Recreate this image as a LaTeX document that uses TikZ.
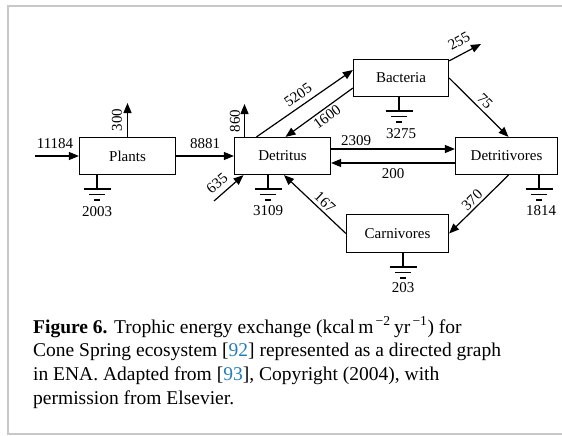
\documentclass[tikz,border=0pt]{standalone}
\usepackage{fontspec}
\setmainfont{Liberation Serif}
\usetikzlibrary{arrows.meta}
\definecolor{citeblue}{RGB}{35,125,185}
\definecolor{framegray}{RGB}{200,200,200}
\begin{document}
\begin{tikzpicture}[x=1pt,y=-1pt,
 box/.style={draw, line width=1.2pt, inner sep=0pt, minimum height=37pt, font=\fontsize{15}{18}\selectfont},
 arr/.style={line width=1.2pt, -{Triangle[length=10pt,width=8pt]}},
 lbl/.style={font=\fontsize{15}{18}\selectfont, inner sep=0pt},
 gnd/.pic={\draw[line width=1.3pt] (0,0) -- (0,14) (-13.5,14) -- (13.5,14) (-8,19.5) -- (8,19.5) (-3,25) -- (3,25);},
 captext/.style={anchor=base west, inner sep=0pt, font=\fontsize{19.5}{23.7}\selectfont}]

\useasboundingbox (0,0) rectangle (562,436);
\draw[framegray, line width=2pt] (563,6) -- (8,6) -- (8,434) -- (563,434);

% boxes
\node[box, minimum width=96pt] (plants) at (127.5,156) {Plants};
\node[box, minimum width=96pt] (detritus) at (282.5,156) {Detritus};
\node[box, minimum width=95pt] (bacteria) at (401,78) {Bacteria};
\node[box, minimum width=102pt] (detritivores) at (506.5,156) {Detritivores};
\node[box, minimum width=102pt, minimum height=38pt] (carnivores) at (397.5,233.5) {Carnivores};

% free ends
\coordinate (in1) at (35,156);
\coordinate (out300) at (127.5,103);
\coordinate (out860) at (244.5,104);
\coordinate (in635) at (214,201);
\coordinate (out255) at (481,44);

% connectors
\draw[arr] (in1) -- (plants.west);
\draw[arr] (plants.north) -- (out300);
\draw[arr] (plants.east) -- (detritus.west);
\draw[arr] ([xshift=-38pt]detritus.north) -- (out860);
\draw[arr] (in635) -- ([xshift=-39pt]detritus.south);
\draw[arr] ([xshift=-26pt]detritus.north) -- ([yshift=8pt]bacteria.west);
\draw[arr] ([yshift=-10pt]bacteria.west) -- ([xshift=3pt]detritus.north);
\draw[arr] ([yshift=-2pt]bacteria.north east) -- (out255);
\draw[arr] (bacteria.east) -- ([xshift=2pt]detritivores.north);
\draw[arr] ([yshift=7pt]detritus.east) -- ([yshift=7pt]detritivores.west);
\draw[arr] ([yshift=-7pt]detritivores.west) -- ([yshift=-7pt]detritus.east);
\draw[arr] ([xshift=2pt]detritivores.south) -- (carnivores.east);
\draw[arr] (carnivores.west) -- ([xshift=1.5pt]detritus.south);

% grounds
\pic at ([xshift=-30.5pt]plants.south) {gnd};
\pic at ([xshift=-14.5pt]detritus.south) {gnd};
\pic at ([xshift=-2pt]bacteria.south) {gnd};
\pic at ([xshift=32.5pt]detritivores.south) {gnd};
\pic at ([xshift=5.5pt]carnivores.south) {gnd};

% labels
\node[lbl] (l11184) at (55,144) {11184};
\node[lbl, rotate=90] (l300) at (117,120) {300};
\node[lbl] (l8881) at (205,144) {8881};
\node[lbl, rotate=90] (l860) at (235,121) {860};
\node[lbl, rotate=41] (l635) at (217,183) {635};
\node[lbl, rotate=35] (l5205) at (298,95) {5205};
\node[lbl, rotate=36] (l1600) at (327,117) {1600};
\node[lbl, rotate=29] (l255) at (459,41) {255};
\node[lbl, rotate=-45] (l75) at (485,101) {75};
\node[lbl] (l2309) at (356,141) {2309};
\node[lbl] (l200) at (393,174) {200};
\node[lbl, rotate=44] (l370) at (472,200) {370};
\node[lbl, rotate=-43] (l167) at (325,202) {167};
\node[lbl] (l2003) at (97,212) {2003};
\node[lbl] (l3109) at (268,211) {3109};
\node[lbl] (l3275) at (401,134) {3275};
\node[lbl] (l1814) at (541,211) {1814};
\node[lbl] (l203) at (403,288) {203};

% caption
\node[captext] (c1) at (33,333) {\textbf{Figure 6.} Trophic energy exchange (kcal\,m\textsuperscript{\,−2}\,yr\textsuperscript{\,−1}) for};
\node[captext] (c2) at (33,356.7) {Cone Spring ecosystem [\textcolor{citeblue}{92}] represented as a directed graph};
\node[captext] (c3) at (33,380.4) {in ENA. Adapted from [\textcolor{citeblue}{93}], Copyright (2004), with};
\node[captext] (c4) at (33,404.1) {permission from Elsevier.};
\end{tikzpicture}
\end{document}
